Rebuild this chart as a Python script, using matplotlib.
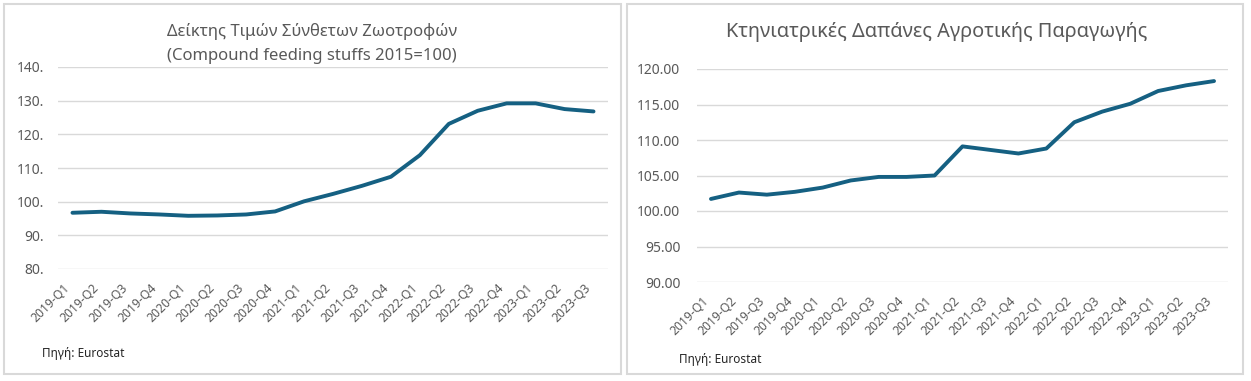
import matplotlib
matplotlib.use("Agg")
import matplotlib.pyplot as plt
from matplotlib.patches import Rectangle

quarters = ["2019-Q1", "2019-Q2", "2019-Q3", "2019-Q4",
            "2020-Q1", "2020-Q2", "2020-Q3", "2020-Q4",
            "2021-Q1", "2021-Q2", "2021-Q3", "2021-Q4",
            "2022-Q1", "2022-Q2", "2022-Q3", "2022-Q4",
            "2023-Q1", "2023-Q2", "2023-Q3"]

# Compound feeding stuffs price index (2015=100)
feed_index = [96.7, 97.0, 96.5, 96.2, 95.8, 95.9, 96.2, 97.1, 100.1, 102.3,
              104.7, 107.4, 113.8, 123.1, 127.0, 129.2, 129.2, 127.5, 126.8]

# veterinary expenses
vet_index = [101.7, 102.6, 102.3, 102.7, 103.3, 104.3, 104.8, 104.8, 105.0, 109.1,
             108.6, 108.1, 108.8, 112.5, 114.0, 115.1, 116.9, 117.7, 118.3]

left_ticks = [80, 90, 100, 110, 120, 130, 140]
right_ticks = [90, 95, 100, 105, 110, 115, 120]

left_title = "Δείκτης Τιμών Σύνθετων Ζωοτροφών\n(Compound feeding stuffs 2015=100)"
right_title = "Κτηνιατρικές Δαπάνες Αγροτικής Παραγωγής"
source = "Πηγή: Eurostat"

LINE = "#156082"
GRID = "#D9D9D9"
TXT = "#595959"
W, H = 1251, 381

plt.rcParams["font.family"] = ["Noto Sans", "DejaVu Sans"]

fig = plt.figure(figsize=(W / 100, H / 100), dpi=100)
fig.patch.set_facecolor("white")

# panel borders
for x0, x1 in [(4, 621), (627, 1243)]:
    fig.add_artist(Rectangle((x0 / W, 1 - 374 / H), (x1 - x0) / W, 370 / H,
                             transform=fig.transFigure, fill=False,
                             edgecolor=GRID, linewidth=1.5))


def px_axes(x0, x1, ytop, ybot):
    return fig.add_axes([x0 / W, 1 - ybot / H, (x1 - x0) / W, (ybot - ytop) / H])


def style(ax, vals, ticks, fmt, ypad):
    xs = range(len(quarters))
    ax.plot(xs, vals, color=LINE, linewidth=2.8,
            solid_joinstyle="round", solid_capstyle="round")
    ax.set_xlim(-0.5, len(quarters) - 0.5)
    ax.set_ylim(ticks[0], ticks[-1])
    ax.set_yticks(ticks)
    ax.set_yticklabels([fmt.format(t) for t in ticks])
    ax.set_xticks(list(xs))
    ax.set_xticklabels(quarters, rotation=45, ha="right")
    ax.grid(axis="y", color=GRID, linewidth=1.0)
    ax.set_axisbelow(True)
    for s in ax.spines.values():
        s.set_visible(False)
    ax.tick_params(axis="y", length=0, pad=ypad, labelsize=10, labelcolor=TXT)
    ax.tick_params(axis="x", length=0, pad=9, labelsize=8.8, labelcolor=TXT)


ax1 = px_axes(58, 608, 67, 269)
style(ax1, feed_index, left_ticks, "{:d}.", 10)
fig.text(312 / W, 1 - 43.5 / H, left_title, ha="center", va="center",
         fontsize=12, color=TXT, linespacing=1.6)
fig.text(42 / W, 1 - 354 / H, source, ha="left", va="center",
         fontsize=8.5, color="#262626")

ax2 = px_axes(697, 1228, 69, 282)
style(ax2, vet_index, right_ticks, "{:.2f}", 12)
fig.text(937 / W, 1 - 32 / H, right_title, ha="center", va="center",
         fontsize=14.3, color=TXT)
fig.text(679 / W, 1 - 359 / H, source, ha="left", va="center",
         fontsize=8.5, color="#262626")

fig.savefig("out.png", dpi=100, facecolor="white")
